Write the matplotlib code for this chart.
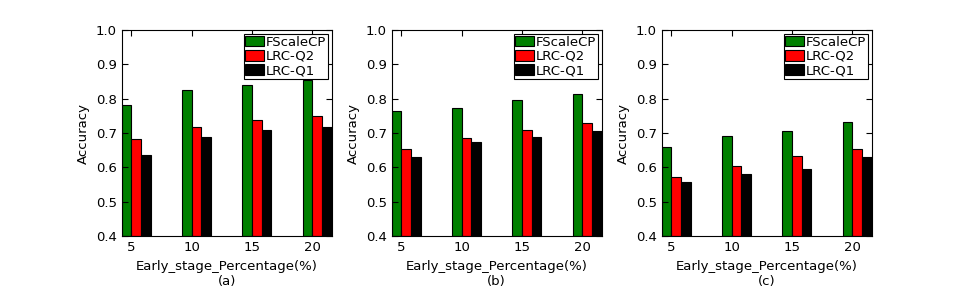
import numpy as np
import matplotlib
matplotlib.use("Agg")
import matplotlib.pyplot as plt

percent = [5, 10, 15, 20]
series = ["FScaleCP", "LRC-Q2", "LRC-Q1"]
colors = ["g", "r", "k"]

# accuracy per panel, one list per method
acc_a = [[0.782, 0.826, 0.839, 0.853],
         [0.684, 0.719, 0.738, 0.750],
         [0.636, 0.689, 0.710, 0.718]]
acc_b = [[0.763, 0.774, 0.795, 0.813],
         [0.655, 0.686, 0.710, 0.729],
         [0.631, 0.673, 0.689, 0.706]]
acc_c = [[0.660, 0.690, 0.707, 0.731],
         [0.571, 0.605, 0.633, 0.655],
         [0.557, 0.581, 0.595, 0.631]]
panels = ["(a)", "(b)", "(c)"]

plt.rcParams['font.family'] = ['DejaVu Sans']
plt.rcParams['font.size'] = 9.5

fig = plt.figure(figsize=(9.69, 3.0), dpi=100)
lefts = [0.1256, 0.4042, 0.6829]
w = 0.8
x = np.array(percent, dtype=float)

for left, data, tag in zip(lefts, [acc_a, acc_b, acc_c], panels):
    ax = fig.add_axes([left, 0.213, 0.2167, 0.687])
    for i, (name, col) in enumerate(zip(series, colors)):
        ax.bar(x + i*w, np.array(data[i]) - 0.4, w, bottom=0.4, align='edge',
               color=col, edgecolor='k', linewidth=0.8, label=name)
    ax.set_xlim(5, 20 + 3*w)
    ax.set_ylim(0.4, 1.0)
    ax.set_xticks(x + w)
    ax.set_xticklabels([str(p) for p in percent])
    ax.set_yticks(np.arange(0.4, 1.01, 0.1))
    ax.set_yticklabels(["%.1f" % v for v in np.arange(0.4, 1.01, 0.1)])
    ax.tick_params(direction='in', top=True, right=True, length=4, width=0.8, labelsize=9.5)
    ax.set_ylabel("Accuracy")
    ax.set_xlabel("Early_stage_Percentage(%)\n" + tag, labelpad=4)
    leg = ax.legend(loc='upper right', fontsize=9.5, fancybox=False, handlelength=1.45,
                    handleheight=0.85, borderpad=0.12, labelspacing=0.1,
                    handletextpad=0.1, borderaxespad=0.3, framealpha=1)
    leg.get_frame().set_edgecolor('k')
    leg.get_frame().set_linewidth(0.8)

fig.savefig("out.png", dpi=100, facecolor='white')
